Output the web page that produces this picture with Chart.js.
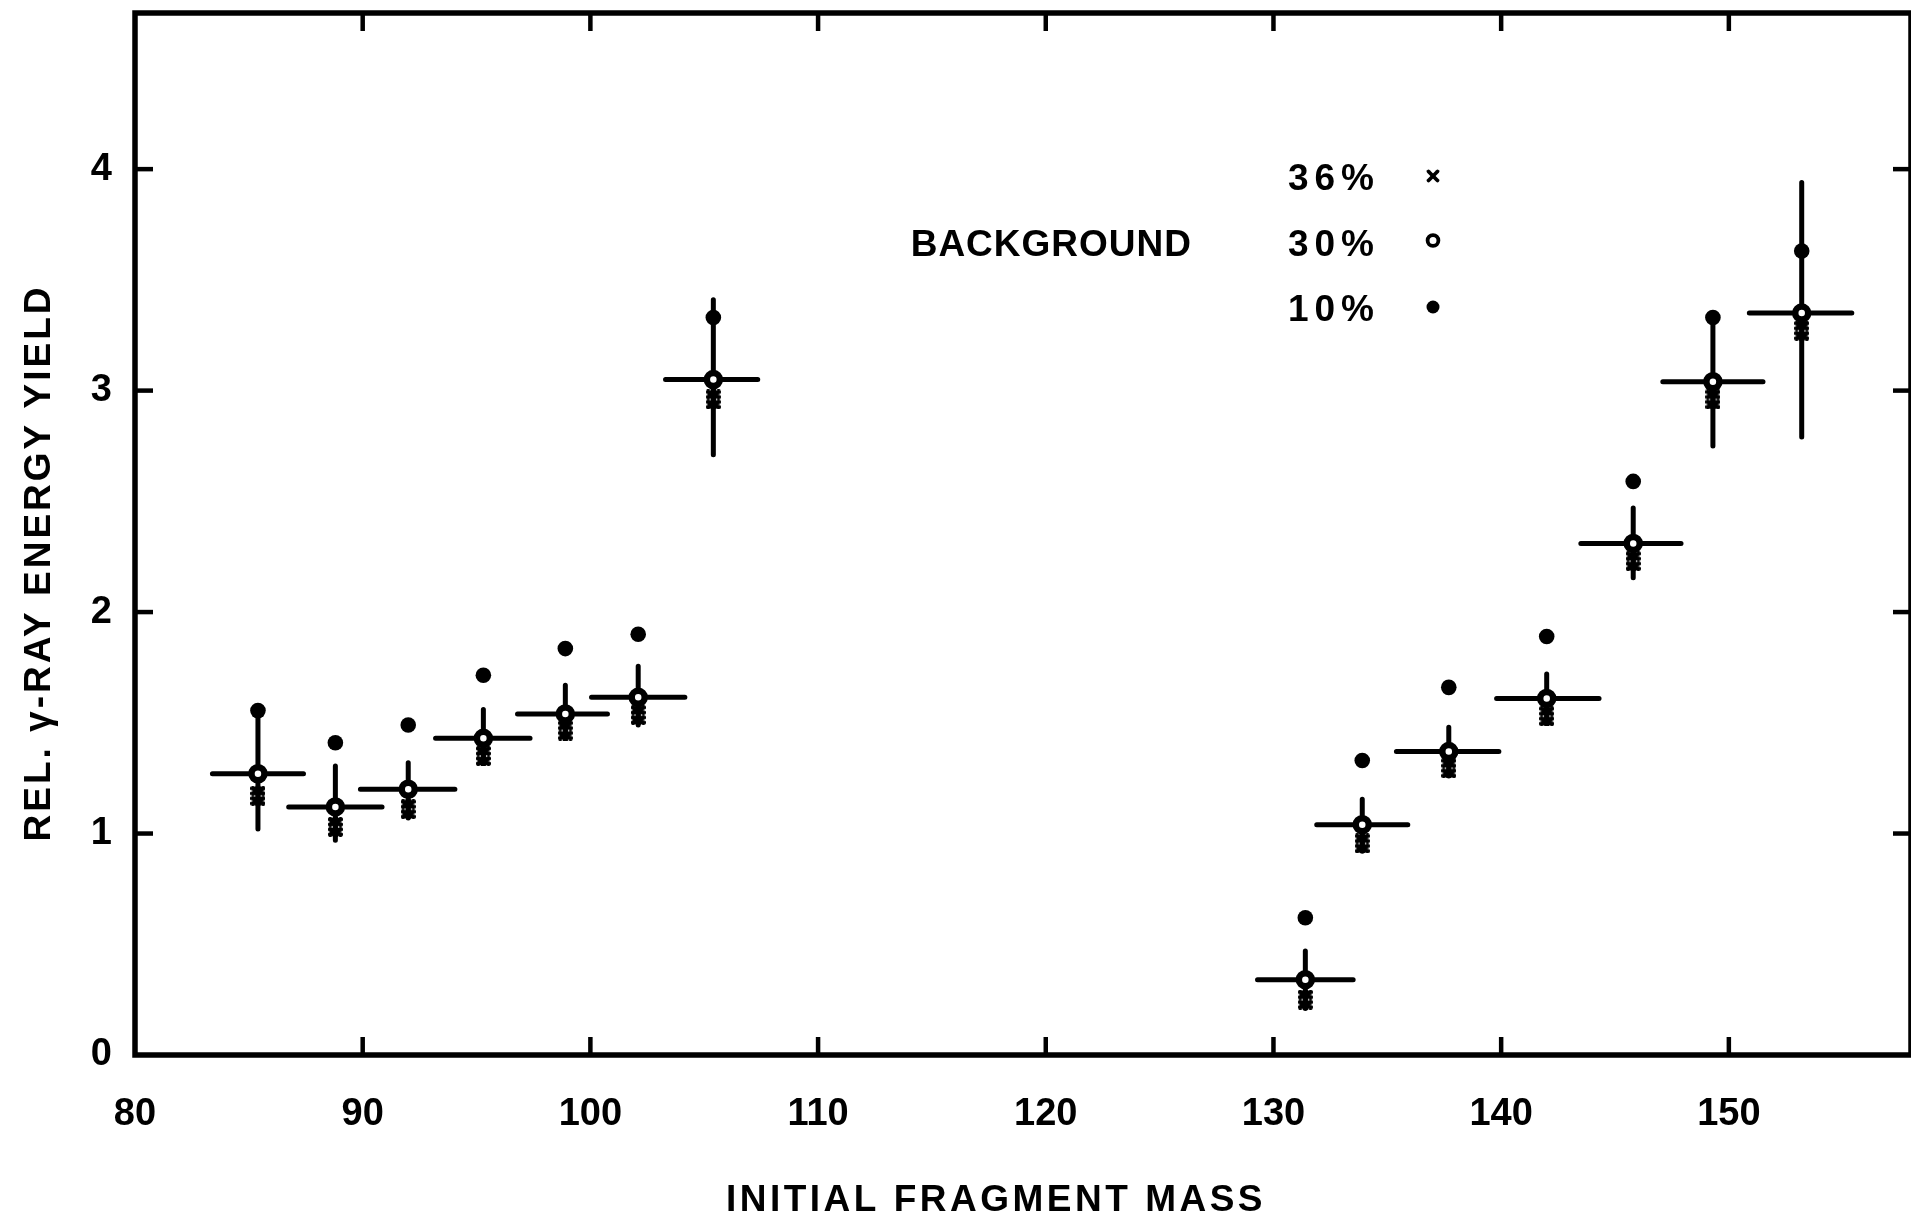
<!DOCTYPE html>
<html><head><meta charset="utf-8">
<script src="https://cdn.jsdelivr.net/npm/chart.js@4.4.1/dist/chart.umd.min.js"></script>
<style>
html,body{margin:0;padding:0;background:#fff;overflow:hidden;width:1911px;height:1220px}
canvas{display:block}
</style></head>
<body>
<canvas id="c" width="1924" height="1220"></canvas>
<script>
// ---- data ----
const xTickValues = [80, 90, 100, 110, 120, 130, 140, 150];
const yTickValues = [0, 1, 2, 3, 4];
const mass     = [85.4, 88.8, 92.0, 95.3, 98.9, 102.1, 105.4, 131.4, 133.9, 137.7, 142.0, 145.8, 149.3, 153.2];
const massLow  = [83.4, 86.75, 89.9, 93.2, 96.8, 100.05, 103.3, 129.3, 131.9, 135.4, 139.8, 143.5, 147.1, 150.9];
const massHigh = [87.4, 90.85, 94.05, 97.35, 100.75, 104.15, 107.35, 133.5, 135.9, 139.9, 144.3, 147.9, 151.5, 155.4];
const bg30     = [1.27, 1.12, 1.20, 1.43, 1.54, 1.615, 3.05, 0.34, 1.04, 1.37, 1.61, 2.31, 3.04, 3.35];
const errLow   = [1.02, 0.97, 1.07, 1.32, 1.43, 1.49, 2.71, 0.21, 0.92, 1.26, 1.50, 2.155, 2.75, 2.79];
const errHigh  = [1.555, 1.305, 1.32, 1.56, 1.67, 1.755, 3.41, 0.47, 1.155, 1.48, 1.72, 2.47, 3.33, 3.94];
const bg10     = [1.555, 1.41, 1.49, 1.715, 1.835, 1.90, 3.33, 0.62, 1.33, 1.66, 1.89, 2.59, 3.33, 3.63];
const bg36     = [1.17, 1.03, 1.11, 1.35, 1.465, 1.535, 2.96, 0.25, 0.955, 1.295, 1.53, 2.23, 2.96, 3.27];
const legendLabels = ['36%', '30%', '10%'];
const legendHeading = 'BACKGROUND';
const xTitle = 'INITIAL FRAGMENT MASS';
const yTitle = 'REL. γ-RAY ENERGY YIELD';

// ---- styles ----
const FONT = '"Liberation Sans", Arial, sans-serif';
const NARROW = '"Liberation Sans Narrow", "Liberation Sans", Arial, sans-serif';
const style = {
  xTitle: {x: 996, y: 1198, spacing: '3.5px'},
  yTitle: {x: 37, y: 563, spacing: '3px'},
  legend: {textRight: 1374, symbolX: 1433, rows: [177, 242.5, 308], headingRight: 1191, headingRow: 1},
  tickLen: 18
};

function pts(ys) { return mass.map((m, i) => ({x: m, y: ys[i]})); }
const hSegs = [];
mass.forEach((m, i) => { hSegs.push({x: massLow[i], y: bg30[i]}, {x: massHigh[i], y: bg30[i]}, {x: m, y: null}); });
const vSegs = [];
mass.forEach((m, i) => { vSegs.push({x: m, y: errLow[i]}, {x: m, y: errHigh[i]}, {x: m, y: null}); });

function makeDoubleCross(w, h, lw) {
  const c = document.createElement('canvas');
  c.width = w; c.height = h;
  const g = c.getContext('2d');
  g.strokeStyle = '#000'; g.lineWidth = lw; g.lineCap = 'round';
  const hh = h / 2;
  for (let k = 0; k < 2; k++) {
    const y0 = k * hh;
    g.beginPath();
    g.moveTo(lw / 2, y0 + lw / 2); g.lineTo(w - lw / 2, y0 + hh - lw / 2);
    g.moveTo(w - lw / 2, y0 + lw / 2); g.lineTo(lw / 2, y0 + hh - lw / 2);
    g.stroke();
  }
  g.lineWidth = 5; g.lineCap = 'butt';
  g.beginPath(); g.moveTo(w / 2, 0); g.lineTo(w / 2, h); g.stroke();
  return c;
}
const dblCross = makeDoubleCross(15, 20, 4.8);

function line(ctx, x1, y1, x2, y2) { ctx.beginPath(); ctx.moveTo(x1, y1); ctx.lineTo(x2, y2); ctx.stroke(); }

const decor = {
  id: 'decor',
  afterDraw(chart) {
    const {ctx, chartArea: a, scales: {x, y}} = chart;
    ctx.save();
    ctx.strokeStyle = '#000';
    ctx.lineWidth = 5.5; ctx.lineJoin = 'miter';
    ctx.strokeRect(a.left, a.top, a.right - a.left, a.bottom - a.top);
    ctx.lineWidth = 4.5; ctx.lineCap = 'butt';
    const L = style.tickLen;
    y.ticks.forEach(t => {
      if (t.value === 0) return;
      const py = y.getPixelForValue(t.value);
      line(ctx, a.left, py, a.left + L, py);
      line(ctx, a.right, py, a.right - L, py);
    });
    x.ticks.forEach(t => {
      if (t.value === x.min) return;
      const px = x.getPixelForValue(t.value);
      line(ctx, px, a.bottom, px, a.bottom - L);
      line(ctx, px, a.top, px, a.top + L);
    });
    // titles
    ctx.fillStyle = '#000';
    ctx.font = 'bold 37px ' + FONT;
    ctx.textBaseline = 'alphabetic';
    ctx.textAlign = 'center';
    ctx.letterSpacing = style.xTitle.spacing;
    ctx.fillText(xTitle, style.xTitle.x, style.xTitle.y + 13);
    ctx.save();
    ctx.translate(style.yTitle.x, style.yTitle.y);
    ctx.rotate(-Math.PI / 2);
    ctx.letterSpacing = style.yTitle.spacing;
    ctx.fillText(yTitle, 0, 13);
    ctx.restore();
    // legend
    const lg = style.legend;
    ctx.textAlign = 'right';
    ctx.letterSpacing = '6px';
    legendLabels.forEach((t, i) => ctx.fillText(t, lg.textRight + 6, lg.rows[i] + 13));
    ctx.letterSpacing = '1px';
    ctx.fillText(legendHeading, lg.headingRight + 1, lg.rows[lg.headingRow] + 13);
    // legend symbols
    const sx = lg.symbolX;
    ctx.lineWidth = 3.8; ctx.lineCap = 'round';
    let cy = lg.rows[0] - 1;
    line(ctx, sx - 4.5, cy - 4.5, sx + 4.5, cy + 4.5);
    line(ctx, sx + 4.5, cy - 4.5, sx - 4.5, cy + 4.5);
    cy = lg.rows[1] - 2;
    ctx.lineWidth = 3.8;
    ctx.beginPath(); ctx.arc(sx, cy, 5.4, 0, Math.PI * 2); ctx.stroke();
    cy = lg.rows[2] - 1;
    ctx.beginPath(); ctx.arc(sx, cy, 6.5, 0, Math.PI * 2); ctx.fill();
    ctx.restore();
  }
};

new Chart(document.getElementById('c'), {
  type: 'scatter',
  data: {
    datasets: [
      {label: 'hbar', data: hSegs, showLine: true, spanGaps: false, borderColor: '#000', borderWidth: 5,
       borderCapStyle: 'round', pointRadius: 0, order: 10},
      {label: 'vbar', data: vSegs, showLine: true, spanGaps: false, borderColor: '#000', borderWidth: 5,
       borderCapStyle: 'round', pointRadius: 0, order: 9},
      {label: '36%', data: pts(bg36), pointStyle: dblCross, order: 3},
      {label: '30%', data: pts(bg30), pointStyle: 'circle', pointRadius: 6.5, borderWidth: 6.5,
       borderColor: '#000', backgroundColor: '#fff', order: 2},
      {label: '10%', data: pts(bg10), pointStyle: 'circle', pointRadius: 7.8, borderWidth: 0,
       backgroundColor: '#000', borderColor: '#000', order: 1}
    ]
  },
  options: {
    responsive: false,
    animation: false,
    devicePixelRatio: 1,
    layout: {padding: {top: 12, right: 8, left: 0, bottom: 0}},
    plugins: {legend: {display: false}, tooltip: {enabled: false}},
    scales: {
      x: {
        type: 'linear', min: 80, max: 158,
        afterBuildTicks: s => { s.ticks = xTickValues.map(v => ({value: v})); },
        afterFit: s => { s.height = 165; s.paddingLeft = 0; s.paddingRight = 0; },
        grid: {display: false, drawTicks: false},
        border: {display: false},
        ticks: {color: '#000', font: {family: NARROW, size: 38, weight: 'bold'}, padding: 37, maxRotation: 0,
                callback: v => String(v)}
      },
      y: {
        type: 'linear', min: 0, max: 4.705,
        afterBuildTicks: s => { s.ticks = yTickValues.map(v => ({value: v})); },
        afterFit: s => { s.width = 135; s.paddingTop = 0; s.paddingBottom = 0; },
        grid: {display: false, drawTicks: false},
        border: {display: false},
        ticks: {color: '#000', font: {family: NARROW, size: 38, weight: 'bold'}, padding: 23,
                callback: v => String(v)}
      }
    }
  },
  plugins: [decor]
});
</script>
</body></html>
